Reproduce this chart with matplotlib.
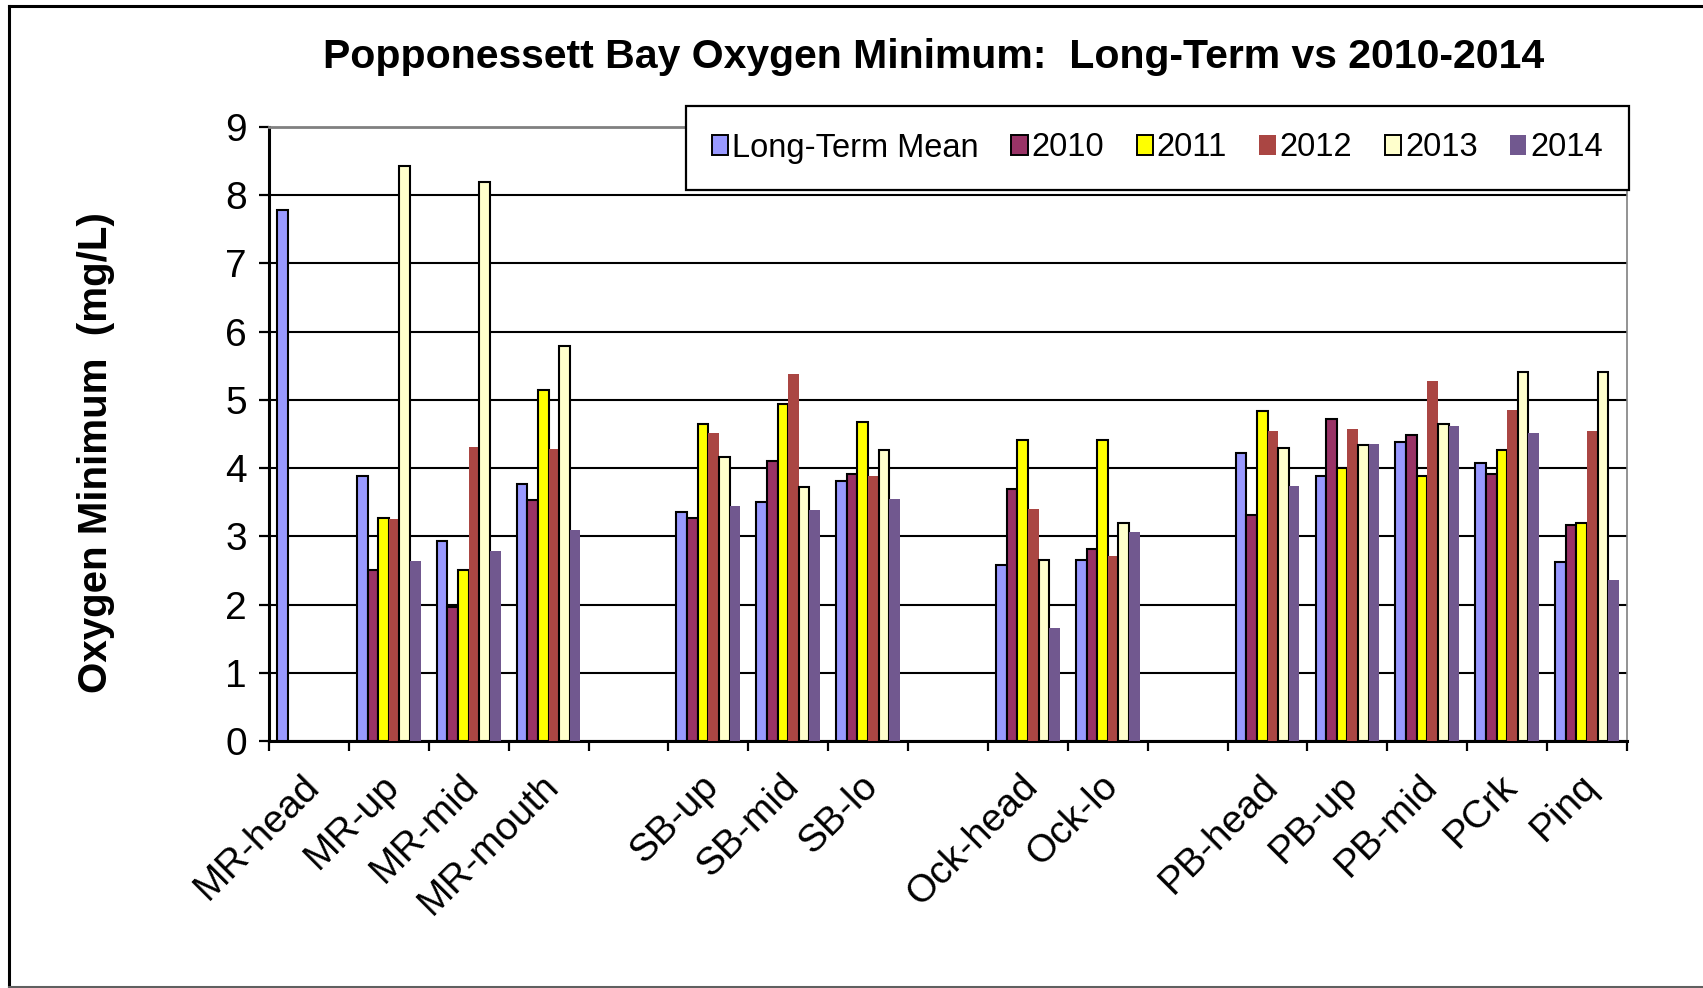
import numpy as np
import matplotlib
matplotlib.use("Agg")
import matplotlib.pyplot as plt
from matplotlib.lines import Line2D
from matplotlib.patches import Patch
from matplotlib.transforms import blended_transform_factory, ScaledTranslation

plt.rcParams['font.family'] = ['Liberation Sans', 'DejaVu Sans']

# Station slots; None marks an empty spacer slot between estuary reaches
sites = ["MR-head", "MR-up", "MR-mid", "MR-mouth", None,
         "SB-up", "SB-mid", "SB-lo", None,
         "Ock-head", "Ock-lo", None,
         "PB-head", "PB-up", "PB-mid", "PCrk", "Pinq"]

long_term = [7.78, 3.88, 2.93, 3.77, None, 3.35, 3.50, 3.81, None, 2.58, 2.66, None, 4.22, 3.88, 4.38, 4.07, 2.62]
y2010 = [None, 2.50, 1.97, 3.53, None, 3.27, 4.11, 3.91, None, 3.69, 2.81, None, 3.31, 4.72, 4.49, 3.92, 3.16]
y2011 = [None, 3.27, 2.50, 5.14, None, 4.65, 4.94, 4.68, None, 4.41, 4.41, None, 4.84, 4.00, 3.88, 4.27, 3.19]
y2012 = [None, 3.25, 4.31, 4.28, None, 4.51, 5.38, 3.89, None, 3.40, 2.71, None, 4.54, 4.58, 5.27, 4.85, 4.54]
y2013 = [None, 8.43, 8.20, 5.79, None, 4.16, 3.73, 4.27, None, 2.66, 3.19, None, 4.30, 4.34, 4.65, 5.41, 5.41]
y2014 = [None, 2.64, 2.79, 3.10, None, 3.44, 3.39, 3.55, None, 1.65, 3.06, None, 3.74, 4.35, 4.62, 4.51, 2.36]

series_names = ["Long-Term Mean", "2010", "2011", "2012", "2013", "2014"]
series_values = [long_term, y2010, y2011, y2012, y2013, y2014]
colors = ["#9999FF", "#993366", "#FFFF00", "#AA4643", "#FFFFCC", "#71588F"]
outlined = [True, True, True, False, True, False]

y_ticks = list(range(0, 10))
title = "Popponessett Bay Oxygen Minimum:  Long-Term vs 2010-2014"
y_label = "Oxygen Minimum  (mg/L)"

W, H = 1703, 988
fig = plt.figure(figsize=(W / 100, H / 100), dpi=100)
ax = fig.add_axes([269 / W, 1 - 741 / H, (1627 - 269) / W, (741 - 127) / H])

n = len(sites)
centers = np.arange(n) + 0.5
bar_w = 0.133
for k, (name, vals, col, edge) in enumerate(zip(series_names, series_values, colors, outlined)):
    heights = np.array([np.nan if v is None else v for v in vals], dtype=float)
    mask = ~np.isnan(heights)
    ax.bar(centers[mask] + (k - 2.5) * bar_w, heights[mask], width=bar_w,
           color=col, edgecolor="black" if edge else col,
           linewidth=1.5 if edge else 0, zorder=3)

ax.set_xlim(0, n)
ax.set_ylim(y_ticks[0], y_ticks[-1])
ax.set_yticks(y_ticks)
ax.set_xticks(np.arange(n + 1))
ax.set_xticklabels([])
ax.tick_params(axis="y", labelsize=28, length=7, width=1.6, pad=9, direction="out")
ax.tick_params(axis="x", length=7, width=1.6, direction="out")

ax.yaxis.grid(True, color="black", linewidth=1.5, zorder=1)
ax.set_axisbelow(True)
for side in ("left", "bottom"):
    ax.spines[side].set_linewidth(2.2)
    ax.spines[side].set_color("black")
ax.spines["top"].set_color("#808080")
ax.spines["top"].set_linewidth(2.0)
ax.spines["right"].set_color("#808080")
ax.spines["right"].set_linewidth(1.2)
ax.spines["top"].set_zorder(4)

# Station names, rotated under each slot
lab_tr = blended_transform_factory(ax.transData, ax.transAxes) + \
    ScaledTranslation(-8 / 100, -27 / 100, fig.dpi_scale_trans)
for c, s in zip(centers, sites):
    if s:
        ax.text(c, 0, s, transform=lab_tr, rotation=45, ha="right", va="top",
                rotation_mode="anchor", fontsize=28)

fig.text(934 / W, 1 - 57 / H, title, ha="center", va="center",
         fontsize=29.5, fontweight="bold")
fig.text(96 / W, 1 - 453 / H, y_label, ha="center", va="center", rotation=90,
         fontsize=29, fontweight="bold")

handles = [Patch(facecolor=c, edgecolor="black" if e else c, linewidth=1.4 if e else 0)
           for c, e in zip(colors, outlined)]
leg = fig.legend(handles, series_names, loc="center",
                 bbox_to_anchor=(686 / W, 1 - 191 / H, (1629 - 686) / W, (191 - 105) / H),
                 mode="expand", ncol=6, fontsize=23.5, frameon=True, fancybox=False,
                 handlelength=0.5, handleheight=0.6, handletextpad=0.12,
                 borderpad=0.8, borderaxespad=0)
leg.get_frame().set_edgecolor("black")
leg.get_frame().set_linewidth(1.6)
leg.get_frame().set_alpha(1)

# Outer chart frame
fig.add_artist(Line2D([8.5 / W, 8.5 / W], [1 - 986.5 / H, 1 - 6.5 / H], color="black",
                      linewidth=2.2, transform=fig.transFigure))
fig.add_artist(Line2D([8.5 / W, 1.0], [1 - 6.5 / H, 1 - 6.5 / H], color="black",
                      linewidth=2.2, transform=fig.transFigure))
fig.add_artist(Line2D([8.5 / W, 1.0], [1 - 986.5 / H, 1 - 986.5 / H], color="#606060",
                      linewidth=2.2, transform=fig.transFigure))

fig.savefig("out.png", dpi=100)
